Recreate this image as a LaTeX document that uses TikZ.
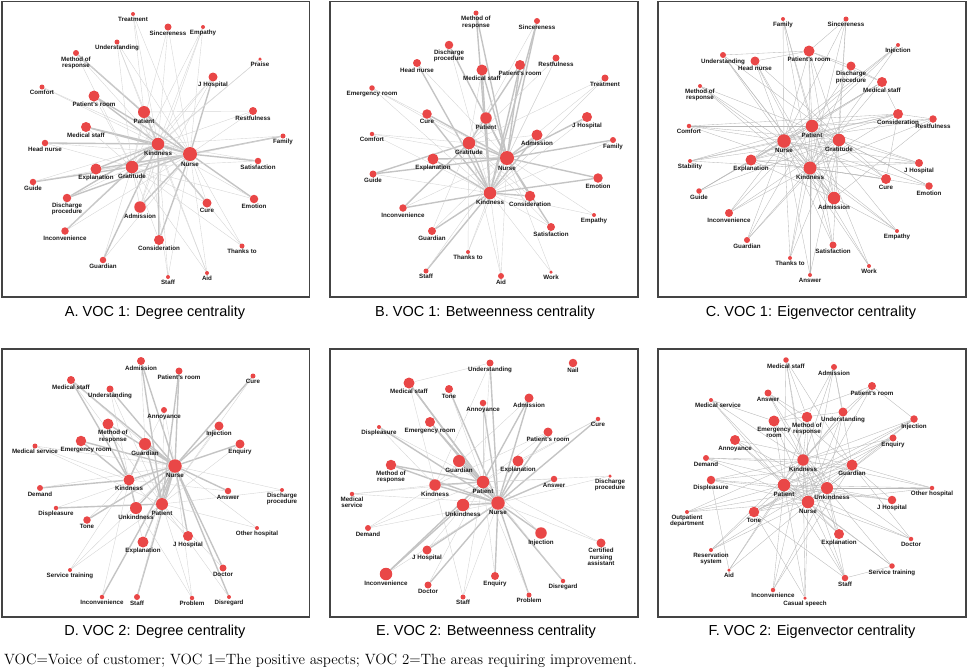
\documentclass[tikz,border=0pt]{standalone}
\usepackage{fontspec}
\newfontfamily\lblfont{Liberation Sans}
\usetikzlibrary{backgrounds}

\definecolor{dotred}{RGB}{233,71,71}
\definecolor{lnkgray}{RGB}{196,196,196}
\definecolor{framegray}{RGB}{68,68,68}

\begin{document}
\begin{tikzpicture}[x=1pt, y=-1pt,
    vtx/.style={circle, fill=dotred, inner sep=0pt, minimum size=#1pt, label distance=3.2pt},
    lbl/.style={font=\lblfont\bfseries\fontsize{6.2}{6.4}\selectfont, inner sep=0.4pt, align=center, text=black!90},
    hk/.style={draw=lnkgray, line width=1.4pt},
    lk/.style={draw=lnkgray!70, line width=0.4pt},
    ek/.style={draw=black!28, line width=0.35pt},
    box/.style={draw=framegray, line width=1.1pt},
    captxt/.style={font=\lblfont\fontsize{14.5}{16}\selectfont},
    notetxt/.style={font=\fontsize{14.9}{16}\selectfont}
  ]
  \useasboundingbox (0,0) rectangle (967,670);

  % frames
  \draw[box] (2,1.5) rectangle (309.5,297);
  \draw[box] (330,1.5) rectangle (638,297);
  \draw[box] (658,1.5) rectangle (966,297);
  \draw[box] (2,349) rectangle (309.5,617);
  \draw[box] (330,349) rectangle (638,617);
  \draw[box] (658,349) rectangle (966,617);

  % A: VOC 1, degree
  \foreach \n/\x/\y/\d/\t in {treat/133/14/4/Treatment, sinc/168/27/7/Sincereness, emp/203/27/4/Empathy,
      und/117/42/5/Understanding, method/76/53/6/{Method of\\response}, praise/260/59/3.5/Praise,
      jhosp/213/77/9/J Hospital, comfort/42/87/5/Comfort, proom/94/96/11/Patient's room,
      patient/144/112/12/Patient, rest/253/111/8/Restfulness, mstaff/86/127/10/Medical staff,
      family/283/136/5/Family, hnurse/45/143/6.5/Head nurse, kind/158/144/12.5/Kindness,
      nurse/190/154/14/Nurse, satis/258/161/6.5/Satisfaction, expl/96/169/11/Explanation,
      grat/132/167/12.5/Gratitude, guide/33/182/6.5/Guide, emotion/254/199/8.5/Emotion,
      disch/67/198/8.5/{Discharge\\procedure}, adm/140/207/11.5/Admission, cure/207/203/9/Cure,
      incon/65/231/7.5/Inconvenience, consid/159/240/10/Consideration, thanks/242/246/5/Thanks to,
      guard/103/260/6.5/Guardian, staff/168/277/4/Staff, aid/207/273/4/Aid}
    \node[vtx=\d, label={[lbl]below:\t}] (a-\n) at (\x,\y) {};

  % B: VOC 1, betweenness
  \foreach \n/\x/\y/\d/\t in {method/476/13/5/{Method of\\response}, sinc/537/21/6/Sincereness,
      disch/449/45/8.5/{Discharge\\procedure}, hnurse/417/63/8/Head nurse, rest/556/58/7/Restfulness,
      proom/520/65/10/Patient's room, mstaff/482/70/11/Medical staff, emroom/372/88/5.5/Emergency room,
      treat/605/78/7/Treatment, cure/427/114/9.5/Cure, patient/486/118/11.5/Patient,
      jhosp/587/117/10/J Hospital, comfort/372/134/4.5/Comfort, adm/537/135/11/Admission,
      family/613/140/6/Family, grat/469/143/12.5/Gratitude, expl/433/159/11/Explanation,
      nurse/507/158/14/Nurse, guide/373/174/7/Guide, emotion/598/178/9.5/Emotion,
      kind/490/193/12.5/Kindness, consid/530/196/10.5/Consideration, incon/403/208/7.5/Inconvenience,
      emp/594/215/4/Empathy, satis/551/227/8/Satisfaction, guard/432/231/8/Guardian,
      thanks/468/252/4/Thanks to, staff/426/271/5/Staff, aid/501/276/6/Aid, work/551/272/3.5/Work}
    \node[vtx=\d, label={[lbl]below:\t}] (b-\n) at (\x,\y) {};

  % C: VOC 1, eigenvector
  \foreach \n/\x/\y/\d/\t in {family/783/19/4/Family, sinc/846/19/5/Sincereness,
      proom/809/51/11/Patient's room, inj/898/45/4/Injection, und/723/55/6/Understanding,
      hnurse/755/61/9/Head nurse, disch/851/66/9/{Discharge\\procedure}, mstaff/882/82/10/Medical staff,
      method/700/86/4/{Method of\\response}, consid/898/114/10/Consideration, rest/933/119/7.5/Restfulness,
      comfort/689/126/4.5/Comfort, patient/812/126/12.5/Patient, nurse/784/141/13.5/Nurse,
      grat/839/140/12.5/Gratitude, stab/690/161/4/Stability, expl/751/160/11/Explanation,
      jhosp/919/163/8/J Hospital, kind/810/168/13/Kindness, cure/886/179/10/Cure,
      emotion/929/186/7.5/Emotion, guide/699/191/5.5/Guide, adm/834/198/12.5/Admission,
      incon/729/213/8/Inconvenience, emp/897/231/4/Empathy, guard/747/240/6/Guardian,
      satis/833/245/7/Satisfaction, thanks/790/258/4/Thanks to, work/869/266/4/Work,
      answer/810/275/4/Answer}
    \node[vtx=\d, label={[lbl]below:\t}] (c-\n) at (\x,\y) {};

  % D: VOC 2, degree
  \foreach \n/\x/\y/\d/\t in {adm/141/361/8/Admission, proom/179/371/7/Patient's room, cure/253/376/5/Cure,
      mstaff/71/380/8/Medical staff, und/110/389/7/Understanding, annoy/164/410/6/Annoyance,
      inj/219/426/9/Injection,
      guard/145/444/12/Guardian, enq/240/444/9/Enquiry, medserv/35/446/5/Medical service,
      nurse/175/466/13.5/Nurse, kind/129/480/11/Kindness, demand/40/488/6/Demand,
      answer/228/491/6.5/Answer, disch/282/490/4/{Discharge\\procedure}, displ/56/508/4.5/Displeasure,
      unkind/136/508/12/Unkindness, patient/162/504/12/Patient, tone/87/520/7.5/Tone,
      otherhosp/257/528/4/Other hospital, jhosp/188/536/10/J Hospital, expl/143/542/11/Explanation,
      doctor/223/568/7/Doctor, servtr/70/570/4/Service training, incon/102/597/4.5/Inconvenience,
      staff/137/597/6/Staff, problem/192/598/4.5/Problem, disreg/229/597/4/Disregard}
    \node[vtx=\d, label={[lbl]below:\t}] (d-\n) at (\x,\y) {};
  \node[vtx=11, label={[lbl, xshift=5pt]below:Method of\\response}] (d-method) at (108,424) {};
  \node[vtx=10.5, label={[lbl, xshift=5pt]below:Emergency room}] (d-emroom) at (81,441) {};

  % E: VOC 2, betweenness
  \foreach \n/\x/\y/\d/\t in {und/490/363/7/Understanding, nail/573/363/8.5/Nail,
      mstaff/409/383/11/Medical staff, tone/449/389/8/Tone, annoy/483/403/6.5/Annoyance,
      adm/529/398/9/Admission, cure/598/419/4.5/Cure, emroom/430/422/10/Emergency room,
      displ/379/427/4/Displeasure, proom/548/432/9/Patient's room, method/391/465/10.5/{Method of\\response},
      guard/459/461/12/Guardian, expl/518/461/11/Explanation, answer/554/479/6.5/Answer,
      disch/610/476/3.5/{Discharge\\procedure}, patient/483/482/12.5/Patient, kind/435/485/11.5/Kindness,
      medserv/352/494/4.5/{Medical\\service}, unkind/463/505/12.5/Unkindness, nurse/498/503/13.5/Nurse,
      demand/368/528/6/Demand, inj/541/533/11.5/Injection, cna/601/543/9/{Certified\\nursing\\assistant},
      jhosp/427/550/9/J Hospital, incon/386/574/12.5/Inconvenience, enq/495/576/8/Enquiry,
      disreg/563/581/4.5/Disregard, doctor/428/585/7/Doctor, staff/463/597/5/Staff,
      problem/529/595/5/Problem}
    \node[vtx=\d, label={[lbl]below:\t}] (e-\n) at (\x,\y) {};

  % F: VOC 2, eigenvector
  \foreach \n/\x/\y/\d/\t in {mstaff/786/360/5.5/Medical staff, adm/834/367/6/Admission,
      proom/872/386/8/Patient's room, answer/768/393/7/Answer,
      emroom/774/421/11/{Emergency\\room}, method/807/417/10.5/{Method of\\response},
      und/843/412/9/Understanding, inj/914/419/7.5/Injection, annoy/735/440/10/Annoyance,
      enq/893/438/7/Enquiry, demand/706/458/6/Demand, kind/803/460/11.5/Kindness,
      guard/852/465/11/Guardian, displ/711/480/8.5/Displeasure, patient/784/485/12.5/Patient,
      otherhosp/932/488/4.5/Other hospital, nurse/808/502/12.5/Nurse,
      jhosp/892/500/8.5/J Hospital, outpat/687/512/4/{Outpatient\\department}, tone/754/512/10.5/Tone,
      expl/839/534/10/Explanation, doctor/911/539/4.5/Doctor, resv/711/550/4/{Reservation\\system},
      aid/729/570/3.5/Aid, servtr/892/566/5.5/Service training, staff/845/578/6.5/Staff,
      incon/773/590/4.5/Inconvenience, casual/805/598/3.5/Casual speech}
    \node[vtx=\d, label={[lbl]below:\t}] (f-\n) at (\x,\y) {};
  \node[vtx=4, label={[lbl, xshift=7pt]below:Medical service}] (f-medserv) at (711,400) {};
  \node[vtx=12, label={[lbl, xshift=5pt]below:Unkindness}] (f-unkind) at (827,488) {};

  \begin{scope}[on background layer]
    % A links
    \foreach \h/\ls in {kind/{hnurse,proom,mstaff,disch,expl,grat,patient,consid,cure,incon,guard,nurse},
        nurse/{proom,mstaff,method,disch,expl,grat,patient,adm,consid,satis,emotion,jhosp,family}, grat/{guide}}
      \foreach \o in \ls \draw[hk] (a-\h) -- (a-\o);
    \foreach \h/\ls in {nurse/{treat,sinc,emp,und,comfort,rest,hnurse,guide,cure,incon,thanks,guard,staff,aid},
        kind/{treat,sinc,emp,und,method,praise,jhosp,comfort,rest,family,satis,guide,emotion,adm,thanks,staff,aid},
        grat/{sinc,praise,jhosp,proom,family,hnurse,emotion,disch,adm,cure,incon,consid,thanks,guard,aid,mstaff,expl,patient,und,method,emp,satis},
        patient/{treat,und,rest,staff,aid,method}, adm/{emp,jhosp}}
      \foreach \o in \ls \draw[lk] (a-\h) -- (a-\o);

    % B links
    \foreach \h/\ls in {nurse/{mstaff,method,sinc,proom,patient,cure,expl,grat,kind,adm,guide,emotion,family,consid,satis,jhosp,disch},
        kind/{mstaff,method,sinc,proom,patient,cure,expl,grat,adm,emotion,consid,incon,guard,staff,hnurse},
        grat/{proom,guide,incon}}
      \foreach \o in \ls \draw[hk] (b-\h) -- (b-\o);
    \foreach \h/\ls in {nurse/{hnurse,rest,emroom,treat,comfort,emp,thanks,aid,work,staff,guard,incon},
        kind/{disch,rest,emroom,treat,comfort,jhosp,family,guide,emp,satis,thanks,aid,work},
        grat/{comfort,satis,thanks,aid,guard,consid,adm,mstaff,sinc,rest,emroom,treat}}
      \foreach \o in \ls \draw[lk] (b-\h) -- (b-\o);

    % C links
    \foreach \h/\ls in {family/{kind,adm,nurse,patient}, sinc/{proom,kind,adm,grat,nurse},
        proom/{hnurse,disch,mstaff,kind,grat,patient,nurse,adm}, inj/{patient,kind,nurse,expl},
        und/{grat,kind,nurse,adm,proom}, hnurse/{kind,nurse,adm,cure}, disch/{mstaff,patient,kind},
        mstaff/{consid,patient,kind,nurse,expl}, method/{nurse,adm,kind,grat},
        consid/{rest,patient,nurse,kind,cure,expl}, rest/{patient,kind,adm,nurse},
        comfort/{nurse,kind,grat,consid,patient}, patient/{stab,guide,expl,jhosp,cure},
        stab/{nurse,kind,grat,consid}, guide/{nurse,grat,expl}, expl/{kind,cure,grat},
        jhosp/{kind,nurse,grat,expl}, cure/{kind,nurse}, emotion/{kind,nurse,patient,grat},
        adm/{kind,nurse,expl}, incon/{kind,grat,nurse,patient}, emp/{kind,adm,patient,nurse},
        guard/{kind,grat,patient,nurse}, satis/{kind,grat,nurse,patient}, thanks/{kind,grat,nurse,patient},
        work/{kind,nurse,patient}, answer/{kind,grat,patient,nurse}}
      \foreach \o in \ls \draw[ek] (c-\h) -- (c-\o);

    % D links
    \foreach \h/\ls in {nurse/{mstaff,und,adm,proom,cure,method,emroom,guard,inj,enq,kind,unkind,patient,expl,jhosp,doctor,staff,incon,tone,answer,disreg},
        kind/{mstaff,method,emroom,guard,demand,unkind}, patient/{adm,proom,displ,guard}}
      \foreach \o in \ls \draw[hk] (d-\h) -- (d-\o);
    \foreach \h/\ls in {nurse/{medserv,demand,displ,disch,otherhosp,servtr,problem,annoy},
        kind/{medserv,answer,servtr,annoy,jhosp,expl,incon,tone,und},
        patient/{disch,otherhosp,problem,disreg,annoy,inj,enq,doctor,staff,cure,mstaff,medserv,servtr,und},
        guard/{mstaff,adm}, unkind/{problem}}
      \foreach \o in \ls \draw[lk] (d-\h) -- (d-\o);

    % E links
    \foreach \h/\ls in {nurse/{mstaff,tone,und,annoy,adm,emroom,displ,method,guard,expl,proom,cure,answer,kind,unkind,patient,inj,jhosp,doctor,enq,problem,disreg},
        patient/{mstaff,adm,emroom,method,guard,kind,incon}, unkind/{incon}}
      \foreach \o in \ls \draw[hk] (e-\h) -- (e-\o);
    \foreach \h/\ls in {und/{mstaff,patient,kind}, kind/{mstaff,adm,displ,proom,medserv,demand,staff},
        patient/{tone,annoy,cure,displ,proom,demand,disch,cna,inj,jhosp,enq,doctor,staff,problem,disreg,answer,medserv},
        nurse/{medserv,demand,disch,cna,incon,staff}, expl/{cure}}
      \foreach \o in \ls \draw[lk] (e-\h) -- (e-\o);

    % F links
    \foreach \h/\ls in {mstaff/{kind,guard,patient,nurse,method}, adm/{method,und,kind,guard,nurse},
        proom/{und,emroom,kind,inj,nurse}, medserv/{kind,patient,emroom,nurse},
        answer/{kind,guard,method,unkind}, emroom/{kind,patient,nurse,und},
        method/{kind,patient,unkind,nurse}, und/{kind,patient,nurse,unkind},
        inj/{kind,guard,patient,unkind,tone}, annoy/{guard,patient,nurse,unkind},
        enq/{kind,patient,nurse,tone}, demand/{kind,guard,unkind,nurse},
        kind/{patient,unkind,nurse,expl,staff}, guard/{patient,nurse,tone,jhosp},
        displ/{kind,guard,unkind,nurse,jhosp}, patient/{otherhosp,jhosp,staff},
        unkind/{otherhosp,jhosp,staff,tone}, otherhosp/{nurse,kind,guard},
        outpat/{kind,patient,nurse,unkind}, tone/{nurse,staff}, expl/{patient,nurse,unkind},
        doctor/{patient,nurse,kind,guard}, resv/{kind,patient,guard,nurse},
        aid/{kind,patient,unkind,displ}, servtr/{patient,nurse,staff,kind}, staff/{nurse},
        incon/{kind,patient,unkind,guard}, casual/{patient,nurse,kind,tone}}
      \foreach \o in \ls \draw[ek] (f-\h) -- (f-\o);
  \end{scope}

  % captions
  \node[captxt] (capa) at (155,313) {A. VOC 1: Degree centrality};
  \node[captxt] (capb) at (485,313) {B. VOC 1: Betweenness centrality};
  \node[captxt] (capc) at (811,313) {C. VOC 1: Eigenvector centrality};
  \node[captxt] (capd) at (155,632) {D. VOC 2: Degree centrality};
  \node[captxt] (cape) at (486,632) {E. VOC 2: Betweenness centrality};
  \node[captxt] (capf) at (812,632) {F. VOC 2: Eigenvector centrality};
  \node[notetxt, anchor=west, inner sep=0pt] (note) at (4,661) {VOC=Voice of customer; VOC 1=The positive aspects; VOC 2=The areas requiring improvement.};
\end{tikzpicture}
\end{document}
